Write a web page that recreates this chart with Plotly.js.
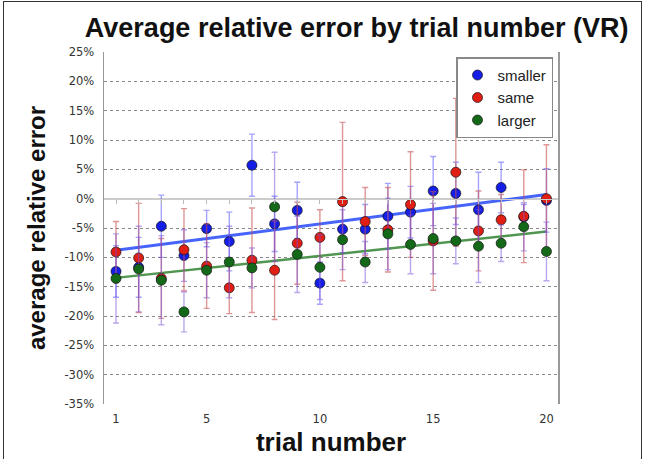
<!DOCTYPE html>
<html><head><meta charset="utf-8">
<script src="https://cdn.plot.ly/plotly-3.0.1.min.js"></script>
<style>
html,body{margin:0;padding:0;background:#fff;}
#chart{width:645px;height:459px;}
#frame{position:absolute;left:3px;top:1px;width:637px;height:470px;border-left:1px solid #333;border-top:1px solid #333;border-right:1px solid #333;pointer-events:none;}
</style>
</head><body>
<div id="chart"></div><div id="frame"></div>
<script>
var trials = [1,2,3,4,5,6,7,8,9,10,11,12,13,14,15,16,17,18,19,20];
var seriesNames = ['smaller','same','larger'];

var smaller    = [-12.4,-11.7,-4.7,-9.7,-5.1,-7.3,5.7,-4.3,-2.0,-14.4,-5.2,-5.2,-3.0,-2.3,1.3,0.9,-1.9,1.9,-3.1,-0.3];
var smallerErr = [4.4,5.1,5.3,4.4,3.1,5.0,5.3,4.7,4.8,3.6,4.0,4.2,5.6,4.4,5.9,5.3,6.4,4.3,2.1,5.4];

var same    = [-9.1,-10.1,-13.6,-8.7,-11.5,-15.2,-10.5,-12.2,-7.6,-6.6,-0.5,-3.9,-5.3,-1.0,-7.2,4.5,-5.5,-3.6,-3.0,0.0];
var sameErr = [5.2,9.3,6.8,7.0,7.2,4.4,8.9,8.4,7.0,4.7,13.5,5.8,7.2,9.0,8.4,12.6,6.8,4.3,7.9,9.2];

var larger    = [-13.6,-12.0,-13.9,-19.3,-12.2,-10.8,-11.8,-1.4,-9.5,-11.7,-7.0,-10.8,-6.0,-7.8,-6.8,-7.2,-8.1,-7.6,-4.8,-9.0];
var largerErr = [7.6,7.3,7.6,3.4,4.7,6.1,3.4,9.3,6.5,5.5,5.1,3.5,6.1,5.0,6.0,3.9,6.2,3.1,4.1,5.0];

var trendX = [1, 20];
var smallerTrend = [-8.8, 0.7];
var largerTrend = [-13.5, -5.6];

var xTickVals = [1,5,10,15,20];
var xTickLabels = ['1','5','10','15','20'];
var yTickVals = [25,20,15,10,5,0,-5,-10,-15,-20,-25,-30,-35];
var yTickLabels = ['25%','20%','15%','10%','5%','0%','-5%','-10%','-15%','-20%','-25%','-30%','-35%'];

var tickFont = {family:'DejaVu Sans', size:11.5, color:'#333'};
var boldFont = function(s){ return {family:'Liberation Sans, Arial, sans-serif', size:s, weight:'bold', color:'#111'}; };

function pts(name, y, err, col, barCol){
  return {
    type:'scatter', mode:'markers', name:name, x:trials, y:y,
    marker:{size:10, color:col, line:{width:1, color:'rgba(20,20,20,0.7)'}},
    error_y:{type:'data', array:err, visible:true, color:barCol, thickness:1.4, width:3},
    hoverinfo:'skip'
  };
}

var data = [
  {type:'scatter', mode:'lines', x:trendX, y:smallerTrend, line:{color:'rgb(70,100,250)', width:3}, showlegend:false, hoverinfo:'skip'},
  {type:'scatter', mode:'lines', x:trendX, y:largerTrend, line:{color:'rgb(80,150,80)', width:2.5}, showlegend:false, hoverinfo:'skip'},
  pts(seriesNames[0], smaller, smallerErr, 'rgb(20,30,230)', 'rgba(90,90,255,0.55)'),
  pts(seriesNames[1], same, sameErr, 'rgb(225,30,20)', 'rgba(200,80,80,0.6)'),
  pts(seriesNames[2], larger, largerErr, 'rgb(20,105,25)', 'rgba(120,80,220,0.5)'),
  {type:'scatter', mode:'markers', x:[trials[0]], y:[0], xaxis:'x2', marker:{opacity:0}, showlegend:false, hoverinfo:'skip'}
];

var layout = {
  width:645, height:459,
  paper_bgcolor:'#fff', plot_bgcolor:'#fff',
  margin:{l:104, r:87, t:52, b:55},
  title:{text:'Average relative error by trial number (VR)', font:boldFont(27),
         x:0.553, xref:'container', xanchor:'center', y:0.94, yref:'container', yanchor:'middle'},
  xaxis:{range:[0.47,20.51], tickvals:xTickVals, ticktext:xTickLabels, showgrid:false, zeroline:false,
         showline:false, ticks:'', tickfont:tickFont, ticklabelstandoff:6,
         title:{text:'trial number', font:boldFont(26), standoff:8}},
  xaxis2:{overlaying:'x', anchor:'free', position:35/60, range:[0.47,20.51], tickvals:trials,
          ticks:'outside', ticklen:4, tickcolor:'#bbb', showticklabels:false, showline:true,
          linecolor:'#ccc', linewidth:1, showgrid:false, zeroline:false},
  yaxis:{range:[-35,25], tickvals:yTickVals, ticktext:yTickLabels, showgrid:true, gridcolor:'#888',
         griddash:'dot', gridwidth:1, zeroline:true, zerolinecolor:'#ccc', zerolinewidth:1,
         showline:true, mirror:true, linecolor:'#999', linewidth:1.5, ticks:'', tickfont:tickFont,
         ticklabelstandoff:6,
         title:{text:'average relative error', font:boldFont(24), standoff:12}},
  legend:{x:0.989, xanchor:'right', y:0.985, yanchor:'top', bordercolor:'#888', borderwidth:1.5,
          bgcolor:'#fff', font:{family:'Liberation Sans, Arial, sans-serif', size:15, color:'#222'}},
  showlegend:true
};

Plotly.newPlot('chart', data, layout, {displayModeBar:false, staticPlot:true});
</script>
</body></html>
